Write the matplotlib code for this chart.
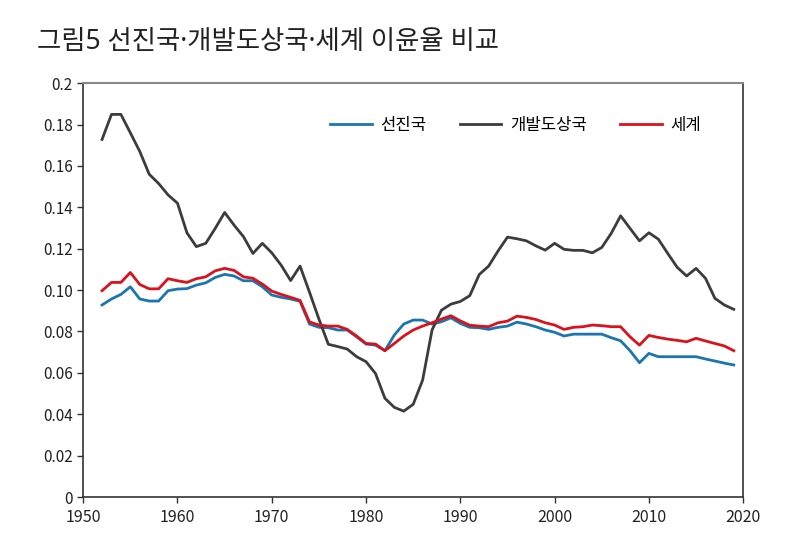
import matplotlib
matplotlib.use('Agg')
from matplotlib import pyplot as plt

years = list(range(1952, 2020))

developed = [
    0.0928, 0.0957, 0.0979, 0.1016, 0.0957, 0.0947, 0.0947, 0.0997, 0.1005, 0.1007,
    0.1024, 0.1035, 0.1061, 0.1076, 0.1068, 0.1045, 0.1045, 0.1016, 0.0976, 0.0965,
    0.0957, 0.0946, 0.0836, 0.0820, 0.0818, 0.0807, 0.0807, 0.0774, 0.0739, 0.0734,
    0.0707, 0.0783, 0.0836, 0.0855, 0.0855, 0.0836, 0.0847, 0.0866, 0.0839, 0.0820,
    0.0818, 0.0810, 0.0820, 0.0826, 0.0845, 0.0836, 0.0823, 0.0807, 0.0796, 0.0778,
    0.0787, 0.0787, 0.0787, 0.0787, 0.0770, 0.0755, 0.0707, 0.0649, 0.0694, 0.0678,
    0.0678, 0.0678, 0.0678, 0.0678, 0.0667, 0.0657, 0.0647, 0.0638,
]

developing = [
    0.1728, 0.1849, 0.1849, 0.1760, 0.1670, 0.1560, 0.1515, 0.1460, 0.1420, 0.1277,
    0.1210, 0.1226, 0.1298, 0.1375, 0.1314, 0.1258, 0.1177, 0.1226, 0.1180, 0.1120,
    0.1046, 0.1116, 0.0990, 0.0860, 0.0738, 0.0727, 0.0715, 0.0678, 0.0654, 0.0597,
    0.0477, 0.0433, 0.0415, 0.0448, 0.0565, 0.0807, 0.0903, 0.0932, 0.0945, 0.0973,
    0.1075, 0.1116, 0.1189, 0.1256, 0.1248, 0.1238, 0.1214, 0.1193, 0.1226, 0.1197,
    0.1192, 0.1192, 0.1180, 0.1206, 0.1274, 0.1359, 0.1298, 0.1238, 0.1277, 0.1246,
    0.1177, 0.1110, 0.1068, 0.1105, 0.1057, 0.0960, 0.0928, 0.0907,
]

world = [
    0.0997, 0.1037, 0.1037, 0.1085, 0.1027, 0.1006, 0.1006, 0.1055, 0.1045, 0.1037,
    0.1055, 0.1064, 0.1093, 0.1105, 0.1095, 0.1064, 0.1057, 0.1029, 0.0995, 0.0979,
    0.0965, 0.0950, 0.0846, 0.0831, 0.0826, 0.0826, 0.0810, 0.0778, 0.0742, 0.0739,
    0.0707, 0.0742, 0.0778, 0.0807, 0.0826, 0.0842, 0.0860, 0.0876, 0.0851, 0.0830,
    0.0826, 0.0823, 0.0842, 0.0850, 0.0874, 0.0868, 0.0858, 0.0842, 0.0831, 0.0810,
    0.0820, 0.0823, 0.0831, 0.0828, 0.0823, 0.0823, 0.0774, 0.0734, 0.0781, 0.0771,
    0.0763, 0.0757, 0.0750, 0.0767, 0.0754, 0.0742, 0.0730, 0.0707,
]

labels = ['선진국', '개발도상국', '세계']
colors = ['#1b75b0', '#3c3c3c', '#d9121c']

x_ticks = [1950, 1960, 1970, 1980, 1990, 2000, 2010, 2020]
y_ticks = [0, 0.02, 0.04, 0.06, 0.08, 0.10, 0.12, 0.14, 0.16, 0.18, 0.2]
y_tick_labels = ['0', '0.02', '0.04', '0.06', '0.08', '0.10', '0.12', '0.14',
                 '0.16', '0.18', '0.2']

title = '그림5 선진국·개발도상국·세계 이윤율 비교'

plt.rcParams['font.family'] = ['Noto Sans CJK KR', 'DejaVu Sans']

fig = plt.figure(figsize=(8, 5.6), dpi=100)
ax = fig.add_axes([0.104, 0.1125, 0.825, 0.739])

for series, label, color in zip([developed, developing, world], labels, colors):
    ax.plot(years, series, color=color, linewidth=2.0, label=label)

ax.set_xlim(1950, 2020)
ax.set_ylim(0, 0.2)
ax.set_xticks(x_ticks)
ax.set_yticks(y_ticks)
ax.set_yticklabels(y_tick_labels)
ax.tick_params(axis='both', direction='out', length=4, width=1, colors='#333333',
               labelsize=11, labelcolor='#222222')
ax.tick_params(axis='x', pad=5, labelsize=11.5)

for side in ['left', 'bottom', 'right']:
    ax.spines[side].set_color('#333333')
    ax.spines[side].set_linewidth(1.2)
ax.spines['top'].set_color('#888888')
ax.spines['top'].set_linewidth(1.5)

ax.legend(loc='upper center', bbox_to_anchor=(0.655, 0.955), ncol=3, frameon=False,
          fontsize=12, handlelength=2.5, columnspacing=2.0, handletextpad=0.5)

# Noto Sans first so the middle dot stays narrow; Hangul falls back to CJK
fig.text(0.046, 0.925, title, fontsize=19, color='#222222', va='center', ha='left',
         family=['Noto Sans', 'Noto Sans CJK KR'])

fig.savefig('out.png', dpi=100, facecolor='white')
